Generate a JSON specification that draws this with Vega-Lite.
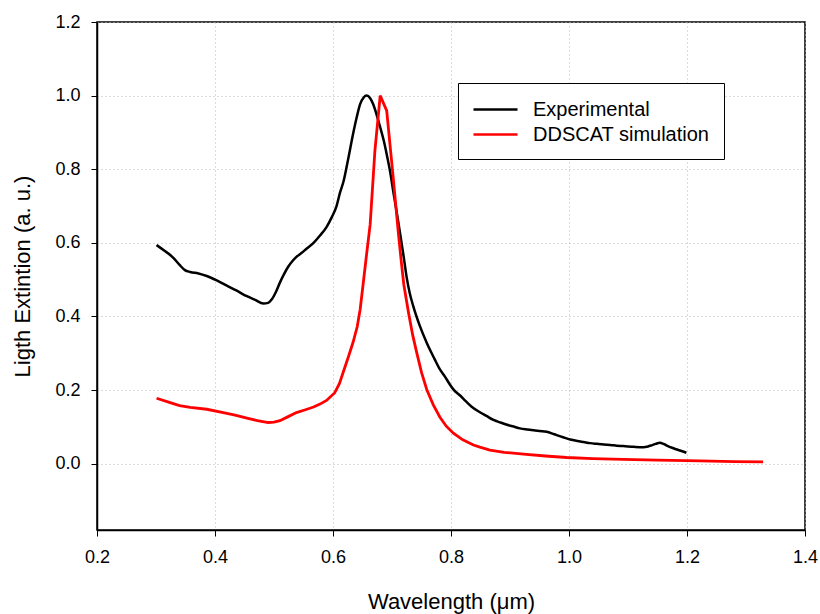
{
  "$schema": "https://vega.github.io/schema/vega-lite/v6.json",
  "width": 708,
  "height": 508,
  "autosize": "none",
  "padding": {"left": 97, "top": 22, "right": 15, "bottom": 84},
  "background": "white",
  "config": {
    "view": {"stroke": "black", "strokeWidth": 1.5},
    "font": "Liberation Sans"
  },
  "datasets": {
    "exp": [
      {"w":0.301,"e":0.594},{"w":0.315,"e":0.578},{"w":0.329,"e":0.560},{"w":0.340,"e":0.540},{"w":0.349,"e":0.526},
      {"w":0.358,"e":0.521},{"w":0.372,"e":0.517},{"w":0.386,"e":0.510},{"w":0.403,"e":0.498},{"w":0.420,"e":0.484},
      {"w":0.437,"e":0.470},{"w":0.454,"e":0.455},{"w":0.468,"e":0.445},{"w":0.482,"e":0.435},{"w":0.490,"e":0.437},
      {"w":0.496,"e":0.446},{"w":0.503,"e":0.466},{"w":0.510,"e":0.492},{"w":0.517,"e":0.515},{"w":0.524,"e":0.535},
      {"w":0.531,"e":0.550},{"w":0.538,"e":0.562},{"w":0.547,"e":0.573},{"w":0.555,"e":0.584},{"w":0.567,"e":0.600},
      {"w":0.578,"e":0.620},{"w":0.589,"e":0.643},{"w":0.598,"e":0.670},{"w":0.606,"e":0.700},{"w":0.612,"e":0.737},
      {"w":0.618,"e":0.768},{"w":0.626,"e":0.830},{"w":0.634,"e":0.896},{"w":0.640,"e":0.940},{"w":0.646,"e":0.977},
      {"w":0.652,"e":0.995},{"w":0.657,"e":1.000},{"w":0.663,"e":0.993},{"w":0.668,"e":0.977},{"w":0.674,"e":0.948},
      {"w":0.680,"e":0.914},{"w":0.686,"e":0.878},{"w":0.691,"e":0.841},{"w":0.697,"e":0.792},{"w":0.702,"e":0.741},
      {"w":0.708,"e":0.683},{"w":0.714,"e":0.623},{"w":0.720,"e":0.560},{"w":0.725,"e":0.505},{"w":0.730,"e":0.464},
      {"w":0.736,"e":0.428},{"w":0.747,"e":0.375},{"w":0.759,"e":0.328},{"w":0.772,"e":0.285},{"w":0.781,"e":0.257},
      {"w":0.790,"e":0.236},{"w":0.797,"e":0.218},{"w":0.804,"e":0.202},{"w":0.815,"e":0.186},{"w":0.825,"e":0.170},
      {"w":0.835,"e":0.155},{"w":0.849,"e":0.140},{"w":0.860,"e":0.130},{"w":0.872,"e":0.119},{"w":0.884,"e":0.112},
      {"w":0.895,"e":0.106},{"w":0.906,"e":0.101},{"w":0.917,"e":0.096},{"w":0.930,"e":0.093},{"w":0.940,"e":0.091},
      {"w":0.950,"e":0.089},{"w":0.962,"e":0.087},{"w":0.975,"e":0.080},{"w":0.990,"e":0.072},{"w":1.002,"e":0.066},
      {"w":1.014,"e":0.062},{"w":1.025,"e":0.059},{"w":1.036,"e":0.056},{"w":1.047,"e":0.054},{"w":1.059,"e":0.052},
      {"w":1.070,"e":0.051},{"w":1.081,"e":0.049},{"w":1.092,"e":0.048},{"w":1.110,"e":0.046},{"w":1.126,"e":0.045},
      {"w":1.134,"e":0.047},{"w":1.140,"e":0.050},{"w":1.147,"e":0.054},{"w":1.154,"e":0.057},{"w":1.160,"e":0.054},
      {"w":1.165,"e":0.050},{"w":1.177,"e":0.042},{"w":1.188,"e":0.036},{"w":1.199,"e":0.030}
    ],
    "sim": [
      {"w":0.301,"e":0.178},{"w":0.324,"e":0.166},{"w":0.340,"e":0.158},{"w":0.358,"e":0.153},{"w":0.386,"e":0.148},
      {"w":0.414,"e":0.139},{"w":0.434,"e":0.132},{"w":0.454,"e":0.124},{"w":0.472,"e":0.117},{"w":0.490,"e":0.112},
      {"w":0.500,"e":0.113},{"w":0.510,"e":0.117},{"w":0.524,"e":0.128},{"w":0.538,"e":0.139},{"w":0.552,"e":0.146},
      {"w":0.567,"e":0.154},{"w":0.578,"e":0.162},{"w":0.589,"e":0.172},{"w":0.603,"e":0.193},{"w":0.611,"e":0.218},
      {"w":0.618,"e":0.252},{"w":0.626,"e":0.290},{"w":0.634,"e":0.330},{"w":0.641,"e":0.372},{"w":0.646,"e":0.419},
      {"w":0.651,"e":0.487},{"w":0.657,"e":0.570},{"w":0.663,"e":0.650},{"w":0.671,"e":0.850},{"w":0.680,"e":1.000},
      {"w":0.691,"e":0.959},{"w":0.702,"e":0.778},{"w":0.711,"e":0.623},{"w":0.716,"e":0.545},{"w":0.720,"e":0.487},
      {"w":0.728,"e":0.410},{"w":0.735,"e":0.350},{"w":0.742,"e":0.301},{"w":0.750,"e":0.248},{"w":0.759,"e":0.201},
      {"w":0.770,"e":0.160},{"w":0.781,"e":0.127},{"w":0.792,"e":0.102},{"w":0.804,"e":0.083},{"w":0.820,"e":0.065},
      {"w":0.838,"e":0.051},{"w":0.849,"e":0.045},{"w":0.866,"e":0.037},{"w":0.890,"e":0.031},{"w":0.923,"e":0.026},
      {"w":0.960,"e":0.021},{"w":0.996,"e":0.017},{"w":1.040,"e":0.014},{"w":1.092,"e":0.012},{"w":1.150,"e":0.010},
      {"w":1.222,"e":0.008},{"w":1.280,"e":0.006},{"w":1.329,"e":0.005}
    ]
  },
  "layer": [
    {
      "data": {"name": "exp"},
      "transform": [{"calculate": "'Experimental'", "as": "series"}],
      "mark": {"type": "line", "strokeWidth": 2.5, "clip": true, "interpolate": "monotone"},
      "encoding": {
        "x": {"field": "w", "type": "quantitative"},
        "y": {"field": "e", "type": "quantitative"},
        "color": {"field": "series", "type": "nominal"}
      }
    },
    {
      "data": {"name": "sim"},
      "transform": [{"calculate": "'DDSCAT simulation'", "as": "series"}],
      "mark": {"type": "line", "strokeWidth": 2.8, "clip": true},
      "encoding": {
        "x": {"field": "w", "type": "quantitative"},
        "y": {"field": "e", "type": "quantitative"},
        "color": {"field": "series", "type": "nominal"}
      }
    }
  ],
  "resolve": {"scale": {"color": "shared"}},
  "encoding": {
    "x": {
      "field": "w", "type": "quantitative",
      "scale": {"domain": [0.2, 1.4], "nice": false, "zero": false},
      "axis": {
        "values": [0.2, 0.4, 0.6, 0.8, 1.0, 1.2, 1.4], "format": ".1f",
        "title": "Wavelength (μm)", "titleFontSize": 22, "titleFontWeight": "normal", "titleColor": "black",
        "titlePadding": 25, "labelFontSize": 18, "labelColor": "black", "labelPadding": 12,
        "tickSize": 6, "tickColor": "black", "domainColor": "black", "domainWidth": 1.5,
        "grid": true, "gridDash": [1, 3], "gridColor": "#b8b8b8", "labelFlush": false
      }
    },
    "y": {
      "field": "e", "type": "quantitative",
      "scale": {"domain": [-0.18, 1.2], "nice": false, "zero": false},
      "axis": {
        "values": [0.0, 0.2, 0.4, 0.6, 0.8, 1.0, 1.2], "format": ".1f",
        "title": "Ligth Extintion (a. u.)", "titleFontSize": 22, "titleFontWeight": "normal", "titleColor": "black",
        "titlePadding": 20, "labelFontSize": 18, "labelColor": "black", "labelPadding": 11,
        "tickSize": 6, "tickColor": "black", "domainColor": "black", "domainWidth": 1.5,
        "grid": true, "gridDash": [1, 3], "gridColor": "#b8b8b8", "labelFlush": false
      }
    },
    "color": {
      "field": "series", "type": "nominal",
      "scale": {"domain": ["Experimental", "DDSCAT simulation"], "range": ["#000000", "#ff0000"]},
      "legend": {
        "title": null, "orient": "none", "legendX": 361, "legendY": 61,
        "strokeColor": "black", "fillColor": "white", "padding": 14,
        "labelFontSize": 20, "labelColor": "black", "labelOffset": 36, "labelLimit": 400,
        "symbolType": "M-1,0H3", "symbolSize": 484, "symbolStrokeWidth": 2.5, "rowPadding": 2
      }
    }
  }
}
